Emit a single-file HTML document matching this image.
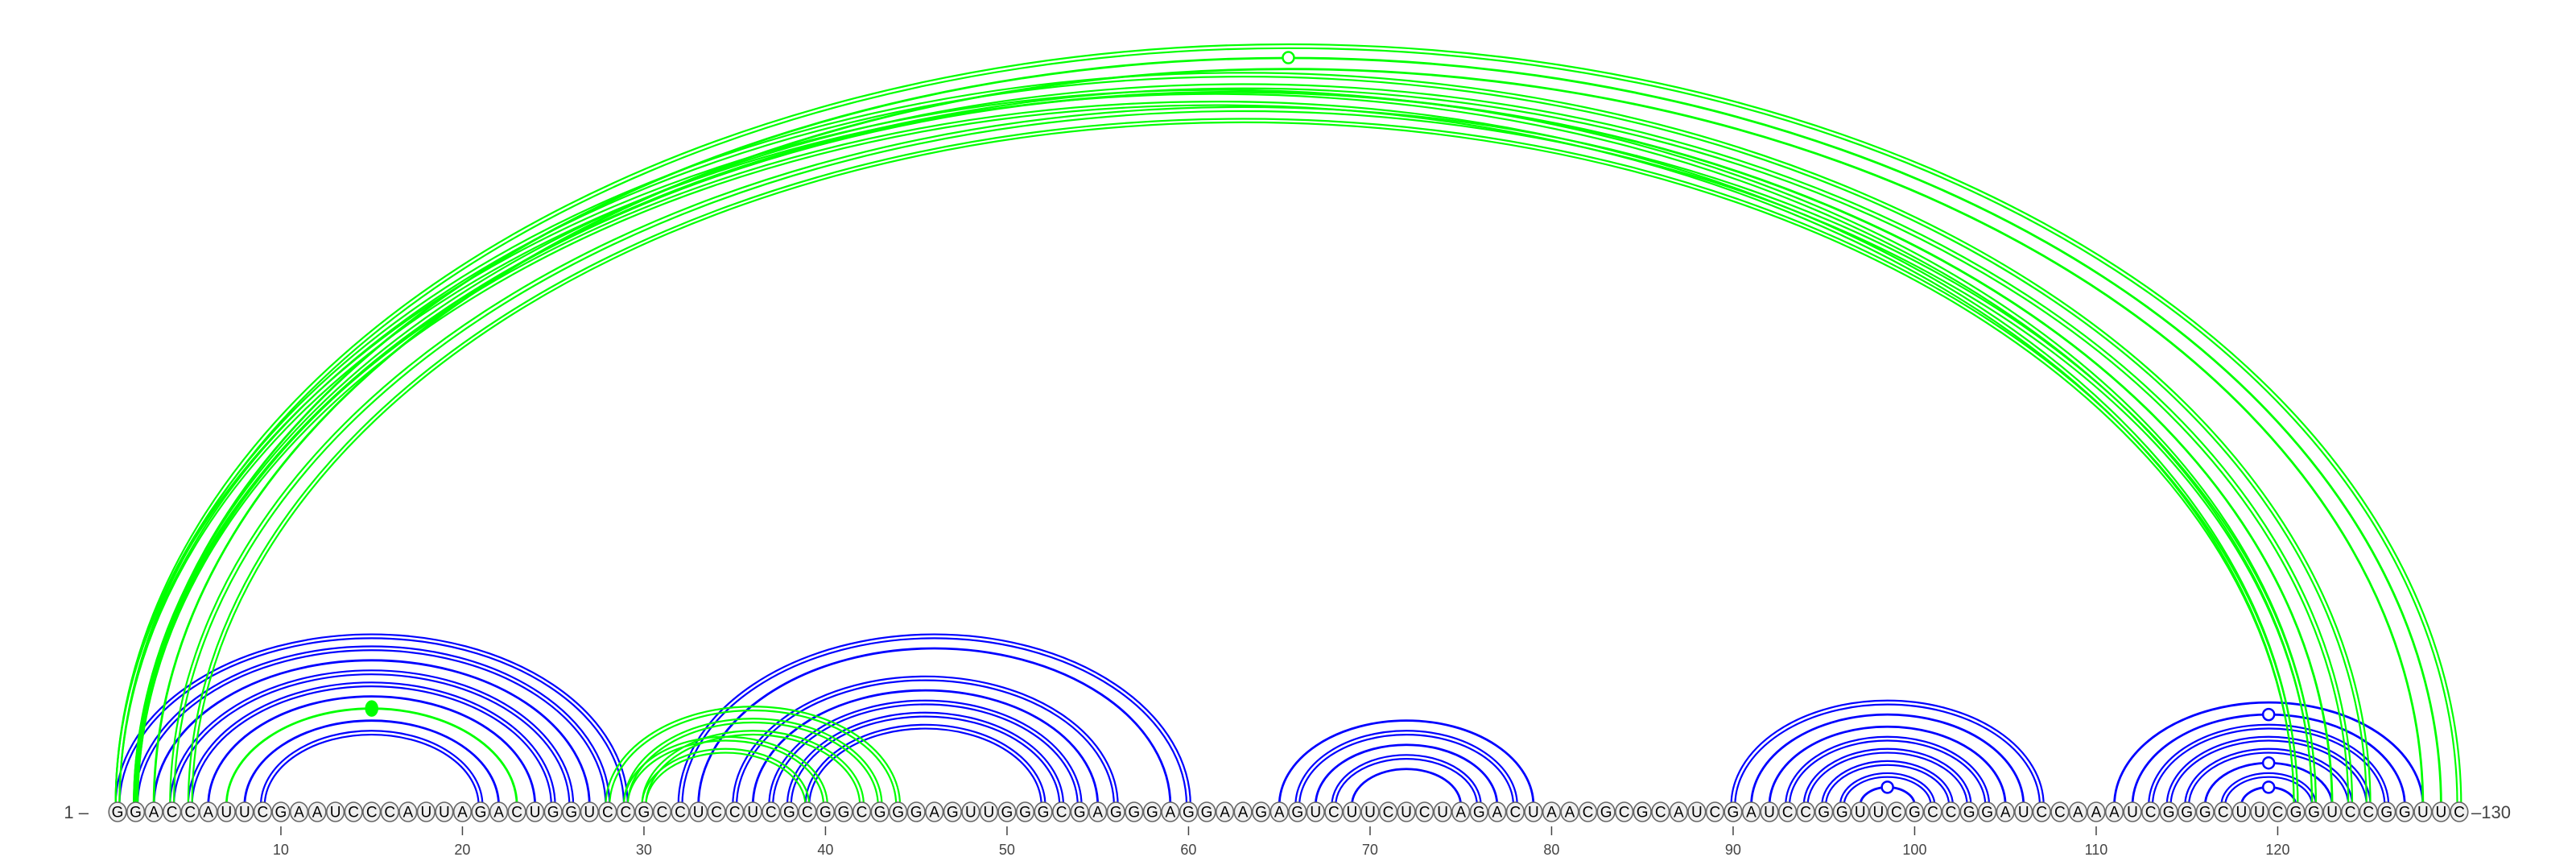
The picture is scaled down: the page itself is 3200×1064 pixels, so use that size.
<!DOCTYPE html>
<html><head><meta charset="utf-8">
<style>
html,body{margin:0;padding:0;background:#fff;}
svg{display:block;}
text{font-family:"Liberation Sans",sans-serif;}
</style></head>
<body>
<svg id="chart" width="3200" height="1064" viewBox="0 0 3200 1064" xmlns="http://www.w3.org/2000/svg">
<g id="arcs"></g>
<g id="nts"></g>
<g id="ticks"></g>
<text x="110" y="1016" font-size="22" fill="#444" text-anchor="end">1 –</text>
<text x="3070" y="1016" font-size="22" fill="#444">–130</text>
</svg>
<script>
const sequence = "GGACCAUUCGAAUCCCAUUAGACUGGUCCGCCUCCUCGCGGCGGGAGUUGGGCGAGGGAGGAAGAGUCUUCUCUAGACUAACGCGCAUCGAUCCGGUUCGCCGGAUCCAAAUCGGGCUUCGGUCCGGUUC";
const tickPositions = [10,20,30,40,50,60,70,80,90,100,110,120];
// blue structure pairs: [i, j, double(1)/single(0), marker(0 none,1 open circle)]
const bluePairs = [
 [1,29,1,0],[2,28,1,0],[3,27,0,0],[4,26,1,0],[5,25,1,0],[6,24,0,0],[8,22,0,0],[9,21,1,0],
 [32,60,1,0],[33,59,0,0],[35,56,1,0],[36,55,0,0],[37,54,1,0],[38,53,1,0],[39,52,1,0],
 [65,79,0,0],[66,78,1,0],[67,77,0,0],[68,76,1,0],[69,75,0,0],
 [90,107,1,0],[91,106,0,0],[92,105,0,0],[93,104,1,0],[94,103,1,0],[95,102,1,0],[96,101,1,0],[97,100,0,1],
 [111,128,0,0],[112,127,0,1],[113,126,1,0],[114,125,1,0],[115,124,1,0],[116,123,0,1],[117,122,1,0],[118,121,0,1]
];
// green structure pairs: marker 2 = filled dot
const greenPairs = [
 [7,23,0,2],
 [28,44,1,0],[29,43,1,0],[30,42,1,0],[29,40,1,0],[30,39,1,0],
 [1,130,1,0],[2,129,0,1],[3,128,0,0],
 [1,125,1,0],[2,124,1,0],[2,123,0,0],[1,122,1,0],[2,121,1,0],[4,122,1,0],[5,121,1,0]
];
const NS="http://www.w3.org/2000/svg";
const X0=146, DX=22.55, BASE=1000, CY=1008;
function xPos(p){return X0+(p-1)*DX;}
function ratio(span){return 0.67-0.00017*span;}
function arcPath(x1,x2,off,r){
  const rx=(x2-x1)/2+off, ry=r*(x2-x1)/2+off;
  return `M${x1-off},${BASE} A${rx},${ry} 0 0 1 ${x2+off},${BASE}`;
}
const arcs=document.getElementById('arcs');
function drawPairs(pairs,color,name){
  pairs.forEach(pr=>{
    const [i,j,dbl,mk]=pr;
    const x1=xPos(i), x2=xPos(j);
    const r=ratio(j-i);
    const offs = dbl ? [-2.4,2.4] : [0];
    offs.forEach(o=>{
      const p=document.createElementNS(NS,'path');
      p.setAttribute('d',arcPath(x1,x2,o,r));
      p.setAttribute('fill','none');
      p.setAttribute('stroke',color);
      p.setAttribute('stroke-width',dbl?2.2:2.8);
      
      
      arcs.appendChild(p);
    });
    if(mk){
      const cx=(x1+x2)/2, cy=BASE-r*(x2-x1)/2;
      const c=document.createElementNS(NS,'ellipse');
      c.setAttribute('cx',cx);c.setAttribute('cy',cy);
      c.setAttribute('rx',7);c.setAttribute('ry',mk===2?9:7);
      c.setAttribute('fill',mk===2?color:'#fff');
      c.setAttribute('stroke',color);c.setAttribute('stroke-width',2.5);
      
      
      arcs.appendChild(c);
    }
  });
}
drawPairs(bluePairs,'#0000ff','blue');
drawPairs(greenPairs,'#00ff00','green');
const nts=document.getElementById('nts');
for(let k=0;k<sequence.length;k++){
  const x=xPos(k+1);
  const e=document.createElementNS(NS,'ellipse');
  e.setAttribute('cx',x);e.setAttribute('cy',CY);e.setAttribute('rx',10.8);e.setAttribute('ry',12);
  e.setAttribute('fill','#f0f0f0');e.setAttribute('stroke','#666');e.setAttribute('stroke-width',1.6);
  
  
  nts.appendChild(e);
  const t=document.createElementNS(NS,'text');
  t.setAttribute('x',x);t.setAttribute('y',CY+6.5);t.setAttribute('font-size',19);
  t.setAttribute('text-anchor','middle');t.setAttribute('fill','#000');
  t.textContent=sequence[k];
  
  
  nts.appendChild(t);
}
const ticks=document.getElementById('ticks');
tickPositions.forEach(p=>{
  const x=xPos(p);
  const l=document.createElementNS(NS,'line');
  l.setAttribute('x1',x);l.setAttribute('x2',x);l.setAttribute('y1',1026);l.setAttribute('y2',1037);
  l.setAttribute('stroke','#444');l.setAttribute('stroke-width',1.5);
  
  
  ticks.appendChild(l);
  const t=document.createElementNS(NS,'text');
  t.setAttribute('x',x);t.setAttribute('y',1061);t.setAttribute('font-size',18);
  t.setAttribute('text-anchor','middle');t.setAttribute('fill','#444');
  t.textContent=p;
  
  
  ticks.appendChild(t);
});
</script>
</body></html>
